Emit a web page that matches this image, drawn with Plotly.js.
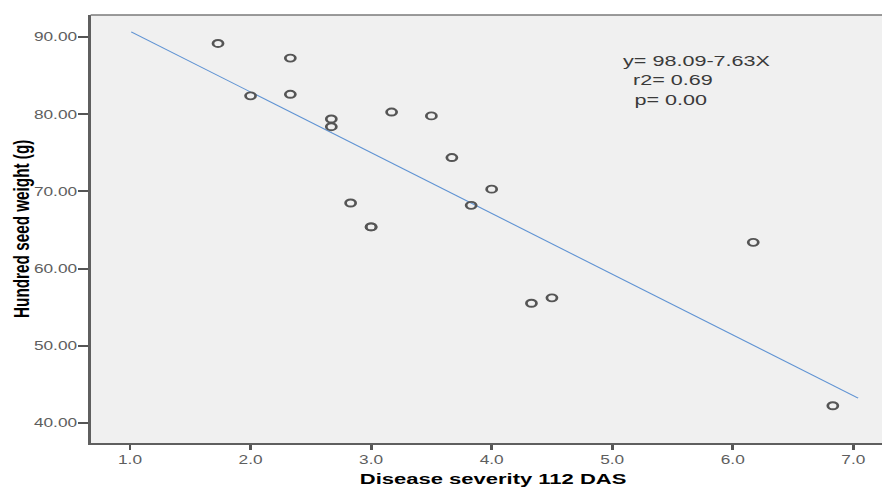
<!DOCTYPE html>
<html>
<head>
<meta charset="utf-8">
<script src="https://cdn.plot.ly/plotly-3.0.1.min.js"></script>
<style>
  html, body { margin: 0; padding: 0; overflow: hidden; background: #ffffff; }
  #chart { width: 613px; height: 489px; transform: scaleX(1.43882); transform-origin: 0 0; }
</style>
</head>
<body>
<div id="chart"></div>
<script>
// Data
const severity = [1.73, 2.00, 2.33, 2.33, 2.67, 2.67, 2.83, 3.00, 3.00, 3.17, 3.50, 3.67, 3.83, 4.00, 4.33, 4.50, 6.17, 6.83];
const seedWeight = [89.2, 82.4, 87.3, 82.6, 79.4, 78.4, 68.5, 65.4, 65.4, 80.3, 79.8, 74.4, 68.2, 70.3, 55.5, 56.2, 63.4, 42.2];
const fitX = [1.01, 7.04];
const fitY = [90.7, 43.2];
const statLines = ["y= 98.09-7.63X", "r2= 0.69", "p= 0.00"];
const xTitle = "Disease severity 112 DAS";
const yTitle = "Hundred seed weight (g)";

const traces = [
  {
    x: fitX, y: fitY, type: 'scatter', mode: 'lines',
    line: { color: '#5f93d3', width: 1 },
    hoverinfo: 'skip', showlegend: false
  },
  {
    x: severity, y: seedWeight, type: 'scatter', mode: 'markers',
    marker: { symbol: 'circle-open', size: 7, color: '#555555', line: { width: 1.9, color: '#555555' } },
    showlegend: false
  }
];

const tickFont = { family: 'Liberation Sans, Arial, sans-serif', size: 12, color: '#5e5e5e' };

const layout = {
  width: 613, height: 489,
  margin: { l: 63, r: 0, t: 15, b: 46, pad: 0 },
  paper_bgcolor: '#ffffff',
  plot_bgcolor: '#f0f0f0',
  showlegend: false,
  xaxis: {
    range: [0.6735, 7.238],
    tick0: 1, dtick: 1, tickformat: '.1f',
    ticks: 'outside', ticklen: 5, tickwidth: 2, tickcolor: '#555555',
    showline: true, linecolor: '#5f5f5f', linewidth: 2,
    showgrid: false, zeroline: false,
    tickfont: tickFont
  },
  yaxis: {
    range: [37.37, 92.89],
    tick0: 40, dtick: 10, tickformat: '.2f',
    ticks: 'outside', ticklen: 7, tickwidth: 2, tickcolor: '#555555',
    ticklabelstandoff: -2,
    showline: true, linecolor: '#5f5f5f', linewidth: 2,
    showgrid: false, zeroline: false,
    tickfont: tickFont
  },
  shapes: [
    { type: 'line', xref: 'paper', yref: 'paper', x0: 0, x1: 1, y0: 1, y1: 1,
      line: { color: '#7a7a7a', width: 1.5 } }
  ],
  annotations: [
    { text: xTitle, xref: 'paper', yref: 'paper', x: 0.508, y: 0, xanchor: 'center', yanchor: 'top',
      yshift: -25, showarrow: false,
      font: { family: 'Liberation Sans, Arial, sans-serif', size: 15.3, color: '#000000', weight: 'bold' } },
    { text: yTitle, xref: 'paper', yref: 'paper', x: 0, y: 0.5, xanchor: 'center', yanchor: 'middle',
      xshift: -49, textangle: -90, showarrow: false,
      font: { family: 'Liberation Sans, Arial, sans-serif', size: 15.3, color: '#000000', weight: 'bold' } },
    { text: statLines[0], xref: 'x', yref: 'y', x: 5.07, y: 87.05, xanchor: 'left', yanchor: 'middle', showarrow: false,
      font: { family: 'Liberation Sans, Arial, sans-serif', size: 15, color: '#3a3a3a' } },
    { text: statLines[1], xref: 'x', yref: 'y', x: 5.15, y: 84.5, xanchor: 'left', yanchor: 'middle', showarrow: false,
      font: { family: 'Liberation Sans, Arial, sans-serif', size: 15, color: '#3a3a3a' } },
    { text: statLines[2], xref: 'x', yref: 'y', x: 5.16, y: 81.9, xanchor: 'left', yanchor: 'middle', showarrow: false,
      font: { family: 'Liberation Sans, Arial, sans-serif', size: 15, color: '#3a3a3a' } }
  ]
};

Plotly.newPlot('chart', traces, layout, { displayModeBar: false, staticPlot: true });
</script>
</body>
</html>
